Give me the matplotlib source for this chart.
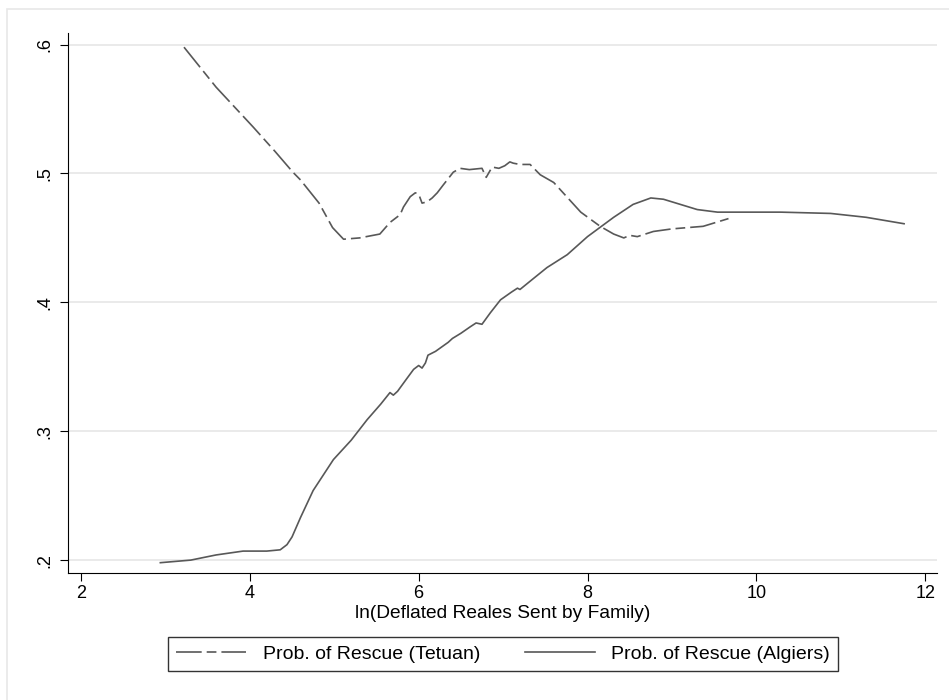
import matplotlib.pyplot as plt
from matplotlib.patches import Rectangle

plt.rcParams['font.family'] = ['Liberation Sans', 'DejaVu Sans']
plt.rcParams['lines.scale_dashes'] = False

LINE_COLOR = '#585858'

# Prob. of Rescue (Tetuan)
TETUAN_X = [3.22, 3.6, 4.04, 4.3, 4.51, 4.60, 4.82, 4.98, 5.11, 5.3, 5.54, 5.66, 5.78, 5.82,
            5.90, 5.96, 6.00, 6.04, 6.10, 6.16, 6.22, 6.29, 6.41, 6.49, 6.60, 6.75, 6.80,
            6.87, 6.95, 7.02, 7.08, 7.12, 7.20, 7.32, 7.44, 7.60, 7.92, 8.15, 8.31, 8.43,
            8.50, 8.59, 8.78, 9.00, 9.37, 9.67]
TETUAN_Y = [0.598, 0.567, 0.536, 0.517, 0.501, 0.495, 0.477, 0.458, 0.449, 0.450, 0.453,
            0.462, 0.468, 0.474, 0.482, 0.485, 0.484, 0.477, 0.478, 0.481, 0.485, 0.491,
            0.501, 0.504, 0.503, 0.504, 0.497, 0.505, 0.504, 0.506, 0.509, 0.508, 0.507,
            0.507, 0.499, 0.493, 0.470, 0.459, 0.453, 0.450, 0.452, 0.451, 0.455, 0.457,
            0.459, 0.465]

# Prob. of Rescue (Algiers)
ALGIERS_X = [2.94, 3.3, 3.6, 3.92, 4.2, 4.36, 4.44, 4.50, 4.60, 4.75, 4.99, 5.2, 5.39, 5.55,
             5.66, 5.70, 5.75, 5.85, 5.94, 6.00, 6.04, 6.08, 6.11, 6.20, 6.35, 6.40, 6.50,
             6.61, 6.68, 6.75, 6.85, 6.97, 7.10, 7.17, 7.20, 7.35, 7.52, 7.76, 8.00, 8.31,
             8.54, 8.75, 8.90, 9.10, 9.30, 9.54, 9.93, 10.29, 10.88, 11.30, 11.75]
ALGIERS_Y = [0.198, 0.200, 0.204, 0.207, 0.207, 0.208, 0.212, 0.218, 0.233, 0.254, 0.278,
             0.293, 0.309, 0.321, 0.330, 0.328, 0.331, 0.340, 0.348, 0.351, 0.349, 0.353,
             0.359, 0.362, 0.369, 0.372, 0.376, 0.381, 0.384, 0.383, 0.392, 0.402, 0.408,
             0.411, 0.410, 0.418, 0.427, 0.437, 0.451, 0.466, 0.476, 0.481, 0.480, 0.476,
             0.472, 0.470, 0.470, 0.470, 0.469, 0.466, 0.461]

X_TICKS = [2, 4, 6, 8, 10, 12]
Y_TICKS = [0.2, 0.3, 0.4, 0.5, 0.6]
Y_TICK_LABELS = ['.2', '.3', '.4', '.5', '.6']

fig = plt.figure(figsize=(9.49, 7.0), dpi=100)
# faint outer graph-region border
fig.patches.append(Rectangle((7 / 949, -0.1), 1.2, 1 - 9 / 700 + 0.1, transform=fig.transFigure,
                             fill=False, edgecolor='#e8e8e8', linewidth=1.2))

ax = fig.add_axes([68 / 949, 1 - 573 / 700, (937 - 68) / 949, (573 - 33) / 700])

# stata-like long/short dash pattern (points)
ax.plot(TETUAN_X, TETUAN_Y, color=LINE_COLOR, linewidth=1.2, dashes=(18.5, 3.6, 7, 3.6),
        label='Prob. of Rescue (Tetuan)')
ax.plot(ALGIERS_X, ALGIERS_Y, color=LINE_COLOR, linewidth=1.2,
        label='Prob. of Rescue (Algiers)')

ax.set_xlim(1.846, 12.14)
ax.set_ylim(0.19, 0.609)

ax.spines['right'].set_visible(False)
ax.spines['top'].set_visible(False)

ax.set_xticks(X_TICKS)
ax.set_yticks(Y_TICKS)
ax.set_yticklabels(Y_TICK_LABELS, rotation=90, va='center')
ax.tick_params(axis='both', labelsize=13, length=5.5, width=0.8)
ax.tick_params(axis='y', pad=5)
ax.yaxis.grid(True, color='#e6e6e6', linewidth=1.2)
ax.set_axisbelow(True)

ax.set_xlabel('ln(Deflated Reales Sent by Family)', fontsize=13.8, labelpad=2)

leg = fig.legend(loc='center left', bbox_to_anchor=(168 / 949, 1 - 654 / 700),
                 ncol=2, fontsize=14, frameon=True, fancybox=False,
                 edgecolor='black', handlelength=3.6, handletextpad=0.85,
                 columnspacing=2.3, borderaxespad=0, borderpad=0.42)
leg.get_frame().set_linewidth(1.0)

plt.savefig('out.png', dpi=100)
